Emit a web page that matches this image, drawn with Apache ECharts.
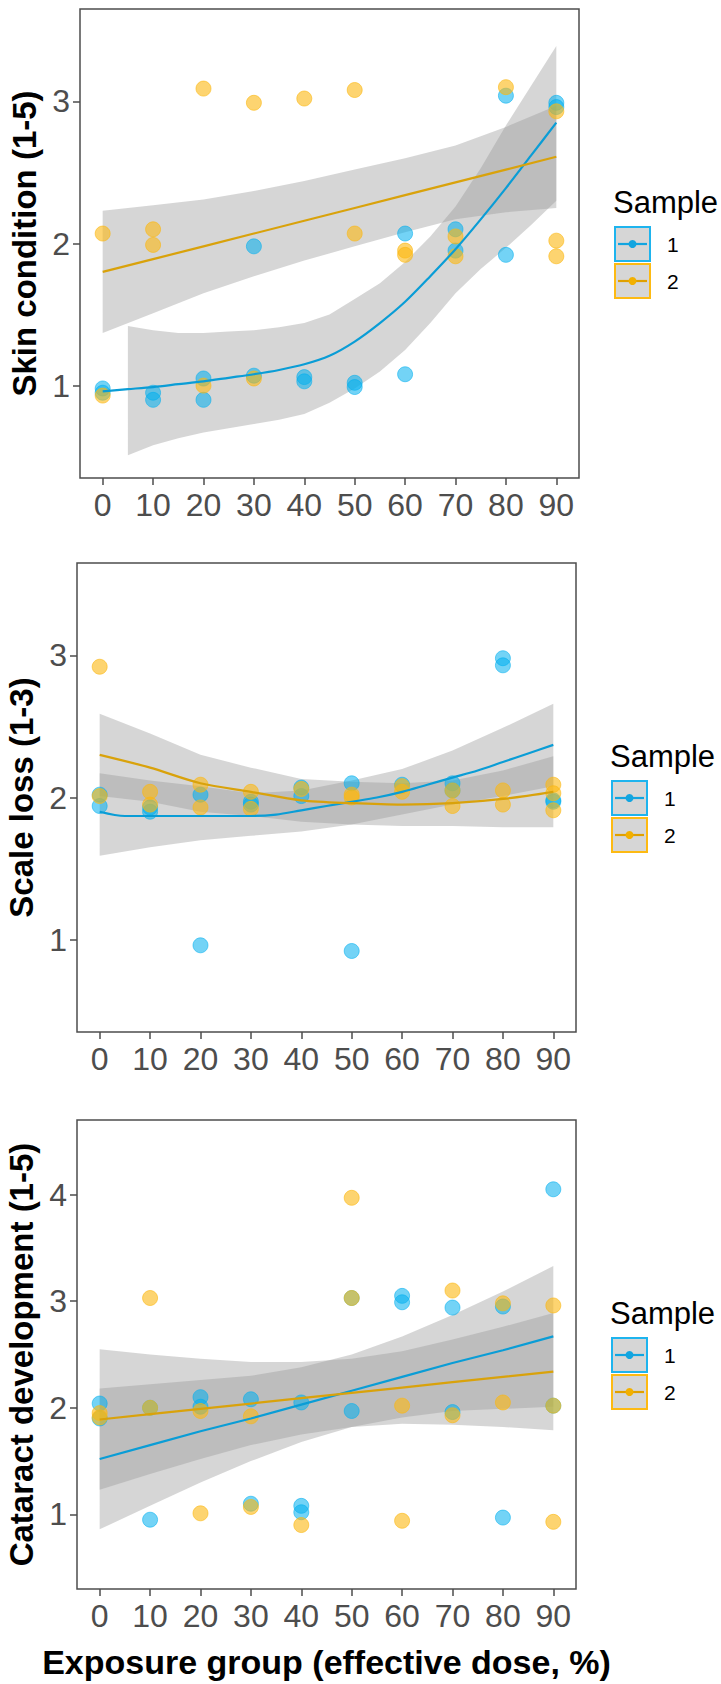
<!DOCTYPE html>
<html>
<head>
<meta charset="utf-8">
<script src="https://cdn.jsdelivr.net/npm/echarts@6/dist/echarts.min.js"></script>
<style>
html,body{margin:0;padding:0;background:#ffffff;}
#chart{width:721px;height:1684px;}
</style>
</head>
<body>
<div id="chart"></div>
<script>
// ---------- data ----------
const doseTicks = [0, 10, 20, 30, 40, 50, 60, 70, 80, 90];
const xTitle = 'Exposure group (effective dose, %)';
const yTitles = ['Skin condition (1-5)', 'Scale loss (1-3)', 'Cataract development (1-5)'];
const yTicksSkin = [1, 2, 3];
const yTicksScale = [1, 2, 3];
const yTicksCat = [1, 2, 3, 4];
const sampleNames = ['1', '2'];

// Panel 1: skin condition, observations [dose, score]
const skin1 = [[0,0.98],[0,0.95],[10,0.95],[10,0.90],[20,1.05],[20,0.90],[30,1.98],[30,1.07],[40,1.06],[40,1.03],[50,1.02],[50,0.99],[60,2.07],[60,1.08],[70,2.10],[70,1.95],[80,3.04],[80,1.92],[90,2.99],[90,2.96]];
const skin2 = [[0,2.07],[0,0.93],[10,2.10],[10,1.99],[20,3.09],[20,1.00],[30,2.99],[30,1.05],[40,3.02],[50,3.08],[50,2.07],[60,1.95],[60,1.92],[70,2.05],[70,1.91],[80,3.10],[90,2.93],[90,2.02],[90,1.91]];
// Panel 1 fits
const skinFitX1 = [0,5,10,15,20,25,30,35,40,45,50,55,60,65,70,75,80,85,90];
const skinFit1  = [0.96,0.975,0.99,1.01,1.03,1.055,1.08,1.11,1.15,1.21,1.31,1.44,1.59,1.77,1.96,2.17,2.39,2.62,2.85];
const skinBandX1 = [5,10,15,20,25,30,35,40,45,50,55,60,65,70,75,80,85,90];
const skinHi1 = [1.42,1.39,1.37,1.37,1.38,1.39,1.41,1.44,1.50,1.61,1.72,1.87,2.05,2.26,2.53,2.83,3.11,3.39];
const skinLo1 = [0.51,0.58,0.63,0.67,0.70,0.73,0.76,0.80,0.88,0.98,1.10,1.25,1.44,1.65,1.82,1.97,2.13,2.30];
const skinFit2 = [1.80,1.89,1.98,2.07,2.16,2.25,2.34,2.43,2.52,2.61];
const skinHi2  = [2.23,2.27,2.31,2.37,2.44,2.52,2.60,2.69,2.82,2.97];
const skinLo2  = [1.37,1.51,1.65,1.77,1.88,1.98,2.08,2.17,2.22,2.25];

// Panel 2: scale loss
const scale1 = [[0,2.02],[0,1.94],[10,1.93],[10,1.90],[20,2.02],[20,0.96],[30,1.97],[30,1.95],[40,2.07],[40,2.01],[50,2.10],[50,0.92],[60,2.09],[70,2.10],[70,2.05],[80,2.98],[80,2.93],[90,1.98],[90,1.97]];
const scale2 = [[0,2.92],[0,2.01],[10,2.04],[10,1.95],[20,2.09],[20,1.93],[30,2.04],[30,1.92],[40,2.06],[50,2.02],[50,2.00],[60,2.08],[60,2.04],[70,2.05],[70,1.94],[80,2.05],[80,1.95],[90,2.09],[90,2.03],[90,1.91]];
const scaleFitX1 = [0,5,10,15,20,25,30,35,40,45,50,55,60,65,70,75,80,85,90];
const scaleFit1  = [1.90,1.87,1.87,1.87,1.87,1.87,1.87,1.88,1.91,1.94,1.97,2.00,2.04,2.09,2.14,2.19,2.25,2.31,2.37];
const scaleHi1 = [2.17,2.12,2.08,2.03,2.05,2.12,2.20,2.33,2.49,2.66];
const scaleLo1 = [1.59,1.65,1.70,1.73,1.76,1.81,1.88,1.95,2.01,2.08];
const scaleFit2 = [2.30,2.21,2.10,2.04,1.98,1.96,1.95,1.96,1.99,2.04];
const scaleHi2  = [2.59,2.45,2.30,2.21,2.13,2.11,2.10,2.12,2.19,2.29];
const scaleLo2  = [2.01,1.97,1.90,1.87,1.83,1.81,1.80,1.80,1.79,1.79];

// Panel 3: cataract development
const cat1 = [[0,2.04],[0,1.90],[10,2.00],[10,0.95],[20,2.10],[20,2.01],[30,2.08],[30,1.10],[40,2.05],[40,1.08],[40,1.02],[50,3.03],[50,1.97],[60,3.05],[60,2.99],[70,2.94],[70,1.96],[80,2.95],[80,0.97],[90,4.05],[90,2.02]];
const cat2 = [[0,1.95],[0,1.91],[10,3.03],[10,2.00],[20,1.97],[20,1.01],[30,1.92],[30,1.07],[40,0.90],[50,3.97],[50,3.03],[60,2.02],[60,0.94],[70,3.10],[70,1.93],[80,2.98],[80,2.05],[90,2.96],[90,2.02],[90,0.93]];
const catFit1 = [1.52,1.65,1.78,1.90,2.03,2.16,2.29,2.42,2.54,2.67];
const catHi1  = [2.18,2.22,2.26,2.30,2.38,2.50,2.67,2.87,3.09,3.33];
const catLo1  = [0.86,1.08,1.30,1.50,1.68,1.82,1.91,1.97,1.99,2.01];
const catFit2 = [1.89,1.94,1.99,2.04,2.09,2.14,2.19,2.24,2.29,2.34];
const catHi2  = [2.55,2.50,2.46,2.43,2.43,2.46,2.53,2.64,2.76,2.89];
const catLo2  = [1.23,1.38,1.52,1.65,1.75,1.82,1.85,1.84,1.82,1.79];

// ---------- styles ----------
const FONT = '"Liberation Sans", Arial, Helvetica, sans-serif';
const PT_BLUE = 'rgba(0,174,239,0.55)';
const PT_GOLD = 'rgba(252,184,16,0.6)';
const LN_BLUE = '#0A9DD6';
const LN_GOLD = '#D9A20B';
const KEY_BLUE = '#1EB4EE';
const KEY_GOLD = '#FDBA13';
const BAND = 'rgba(153,153,153,0.4)';
const AXIS_COL = '#4D4D4D';

const layout = [
  {left: 80, top: 9, width: 499, height: 469, ymin: 0.35, ymax: 3.65},
  {left: 77, top: 563, width: 499, height: 469, ymin: 0.35, ymax: 3.65},
  {left: 77, top: 1120, width: 499, height: 469, ymin: 0.30, ymax: 4.70}
];
const yTickSets = [yTicksSkin, yTicksScale, yTicksCat];

const panels = [
  {pts: [skin1, skin2],
   fits: [[skinFitX1, skinFit1, 0.3], [doseTicks, skinFit2, false]],
   bands: [[skinBandX1, skinLo1, skinHi1], [doseTicks, skinLo2, skinHi2]]},
  {pts: [scale1, scale2],
   fits: [[scaleFitX1, scaleFit1, 0.3], [doseTicks, scaleFit2, 0.3]],
   bands: [[doseTicks, scaleLo1, scaleHi1], [doseTicks, scaleLo2, scaleHi2]]},
  {pts: [cat1, cat2],
   fits: [[doseTicks, catFit1, false], [doseTicks, catFit2, false]],
   bands: [[doseTicks, catLo1, catHi1], [doseTicks, catLo2, catHi2]]}
];

const grids = [], xAxes = [], yAxes = [], series = [], graphics = [];

layout.forEach((L, p) => {
  grids.push({left: L.left, top: L.top, width: L.width, height: L.height,
    show: true, borderColor: AXIS_COL, borderWidth: 1.5, backgroundColor: 'transparent',
    containLabel: false, outerBoundsMode: 'none'});
  xAxes.push({type: 'value', gridIndex: p, min: -4.5, max: 94.5,
    axisLine: {show: false, onZero: false},
    splitLine: {show: false},
    axisTick: {show: true, length: 7, customValues: doseTicks, lineStyle: {color: AXIS_COL, width: 1.5}},
    axisLabel: {customValues: doseTicks, margin: 11, fontSize: 32, color: AXIS_COL, fontFamily: FONT},
    name: p === 2 ? xTitle : '', nameLocation: 'middle', nameGap: 56,
    nameTextStyle: {fontSize: 34, fontWeight: 'bold', color: '#000', fontFamily: FONT}
  });
  yAxes.push({type: 'value', gridIndex: p, min: L.ymin, max: L.ymax,
    axisLine: {show: false, onZero: false},
    splitLine: {show: false},
    axisTick: {show: true, length: 7, customValues: yTickSets[p], lineStyle: {color: AXIS_COL, width: 1.5}},
    axisLabel: {customValues: yTickSets[p], margin: 10, fontSize: 32, color: AXIS_COL, fontFamily: FONT},
    name: yTitles[p], nameLocation: 'middle', nameGap: 35,
    nameTextStyle: {fontSize: 33, fontWeight: 'bold', color: '#000', fontFamily: FONT}
  });

  const P = panels[p];
  // confidence ribbons
  P.bands.forEach(b => {
    const xs = b[0], lo = b[1], hi = b[2];
    series.push({type: 'custom', xAxisIndex: p, yAxisIndex: p, silent: true, z: 2,
      data: [[xs[0], lo[0]]],
      renderItem: (params, api) => {
        const pts = [];
        for (let i = 0; i < xs.length; i++) pts.push(api.coord([xs[i], hi[i]]));
        for (let i = xs.length - 1; i >= 0; i--) pts.push(api.coord([xs[i], lo[i]]));
        return {type: 'polygon', shape: {points: pts}, style: {fill: BAND}};
      }});
  });
  // observations
  [PT_BLUE, PT_GOLD].forEach((c, g) => {
    series.push({type: 'scatter', name: sampleNames[g], xAxisIndex: p, yAxisIndex: p, z: 3,
      data: P.pts[g], symbolSize: 15, silent: true,
      itemStyle: {color: c, borderColor: c, borderWidth: 1, opacity: 1}});
  });
  // fitted lines
  [LN_BLUE, LN_GOLD].forEach((c, g) => {
    const f = P.fits[g];
    series.push({type: 'line', xAxisIndex: p, yAxisIndex: p, z: 4, silent: true,
      data: f[0].map((x, i) => [x, f[1][i]]), smooth: f[2], symbol: 'none', showSymbol: false,
      lineStyle: {color: c, width: 2.2}});
  });

  // legend
  const R = L.left + L.width;
  const T = L.top;
  const kx = R + 36;
  graphics.push({type: 'text', x: R + 34, y: T + 193,
    style: {text: 'Sample', fontSize: 31, fontFamily: FONT, fill: '#000', align: 'left', verticalAlign: 'middle'}});
  [[KEY_BLUE, LN_BLUE, 218], [KEY_GOLD, LN_GOLD, 255]].forEach((k, g) => {
    const ky = T + k[2];
    graphics.push({type: 'rect', shape: {x: kx, y: ky, width: 35, height: 34},
      style: {fill: '#D6D6D6', stroke: k[0], lineWidth: 2}});
    graphics.push({type: 'line', shape: {x1: kx + 3, y1: ky + 17, x2: kx + 32, y2: ky + 17},
      style: {stroke: g === 0 ? '#12A5E0' : '#E0A000', lineWidth: 2.2}});
    graphics.push({type: 'circle', shape: {cx: kx + 17.5, cy: ky + 17, r: 4},
      style: {fill: g === 0 ? '#12A5E0' : '#F2B000'}});
    graphics.push({type: 'text', x: kx + 52, y: ky + 17,
      style: {text: sampleNames[g], fontSize: 21, fontFamily: FONT, fill: '#000', align: 'left', verticalAlign: 'middle'}});
  });
});

const chart = echarts.init(document.getElementById('chart'), null, {renderer: 'svg', width: 721, height: 1684});
chart.setOption({
  backgroundColor: '#ffffff',
  animation: false,
  grid: grids,
  xAxis: xAxes,
  yAxis: yAxes,
  series: series,
  graphic: graphics
});
</script>
</body>
</html>
